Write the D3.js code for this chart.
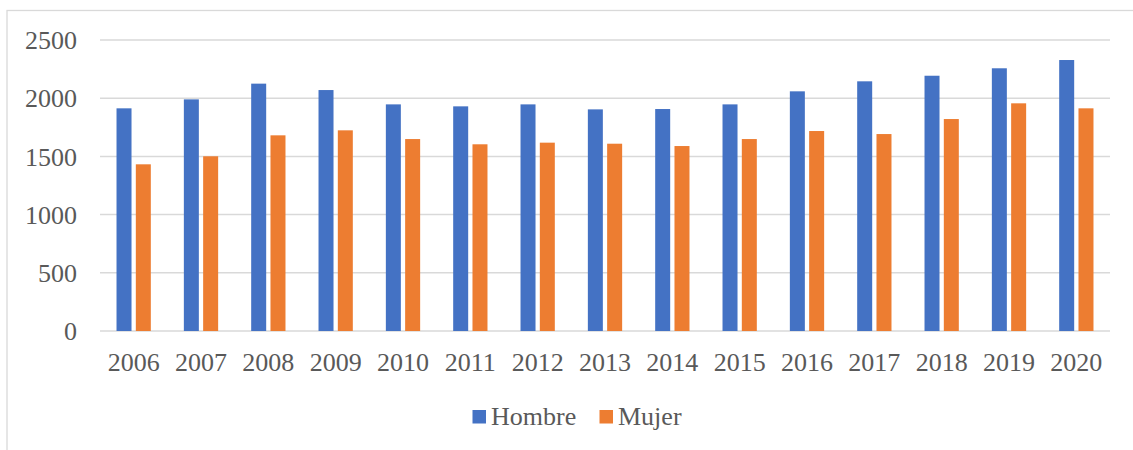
<!DOCTYPE html>
<html>
<head>
<meta charset="utf-8">
<script src="https://cdn.jsdelivr.net/npm/d3@7"></script>
<style>
  body { margin: 0; background: #fff; }
  svg { display: block; }
</style>
</head>
<body>
<div id="chart"></div>
<script>
'use strict';

var years = ['2006', '2007', '2008', '2009', '2010', '2011', '2012', '2013', '2014', '2015', '2016', '2017', '2018', '2019', '2020'];
var hombre = [1913, 1990, 2125, 2070, 1947, 1930, 1947, 1904, 1907, 1947, 2059, 2145, 2193, 2257, 2328];
var mujer = [1432, 1501, 1681, 1724, 1649, 1604, 1618, 1609, 1589, 1649, 1718, 1692, 1821, 1956, 1913];
var seriesNames = ['Hombre', 'Mujer'];
var seriesColors = ['#4472C4', '#ED7D31'];
var yTicks = [0, 500, 1000, 1500, 2000, 2500];

var width = 1133, height = 450;
var margin = {left: 100, right: 23, top: 40, bottom: 119};
var font = '"Liberation Serif", "Times New Roman", serif';
var textColor = '#595959';
var gridColor = '#d9d9d9';

var svg = d3.select('#chart').append('svg')
  .attr('width', width).attr('height', height);

// chart frame (cropped by the picture on the right and bottom)
svg.append('rect')
  .attr('x', 7).attr('y', 10.5)
  .attr('width', 1200).attr('height', 600)
  .attr('style', 'fill:#fff; stroke:' + gridColor + '; stroke-width:1.3');

var x = d3.scaleBand().domain(years)
  .range([margin.left, width - margin.right]);
var y = d3.scaleLinear().domain([0, 2500])
  .range([height - margin.bottom + 0 - 0, margin.top]);
// zero line sits at y=331
y.range([331, 40]);

var barW = 15, barGap = 4.3;

// gridlines
svg.append('g').selectAll('line').data(yTicks).enter().append('line')
  .attr('x1', margin.left).attr('x2', width - margin.right)
  .attr('y1', function(d) { return y(d); })
  .attr('y2', function(d) { return y(d); })
  .attr('stroke', gridColor).attr('stroke-width', 1.5);

// y labels
svg.append('g').selectAll('text').data(yTicks).enter().append('text')
  .attr('x', 77)
  .attr('y', function(d) { return y(d); })
  .attr('dy', '0.35em')
  .attr('text-anchor', 'end')
  .attr('font-family', font).attr('font-size', 26).attr('fill', textColor)
  .text(function(d) { return d; });

// bars
var series = [hombre, mujer];
series.forEach(function(values, s) {
  svg.append('g').selectAll('rect').data(values).enter().append('rect')
    .attr('x', function(d, i) {
      var c = x(years[i]) + x.bandwidth() / 2;
      return s === 0 ? c - barGap / 2 - barW : c + barGap / 2;
    })
    .attr('y', function(d) { return y(d); })
    .attr('width', barW)
    .attr('height', function(d) { return y(0) - y(d); })
    .attr('fill', seriesColors[s]);
});

// x labels
svg.append('g').selectAll('text').data(years).enter().append('text')
  .attr('x', function(d) { return x(d) + x.bandwidth() / 2; })
  .attr('y', 371)
  .attr('text-anchor', 'middle')
  .attr('font-family', font).attr('font-size', 26).attr('fill', textColor)
  .text(function(d) { return d; });

// legend
var legendX = [472.5, 599.5];
seriesNames.forEach(function(name, i) {
  svg.append('rect')
    .attr('x', legendX[i]).attr('y', 410)
    .attr('width', 13.5).attr('height', 13.5)
    .attr('fill', seriesColors[i]);
  svg.append('text')
    .attr('x', legendX[i] + 18.5).attr('y', 424.5)
    .attr('font-family', font).attr('font-size', 26).attr('fill', textColor)
    .text(name);
});
</script>
</body>
</html>
